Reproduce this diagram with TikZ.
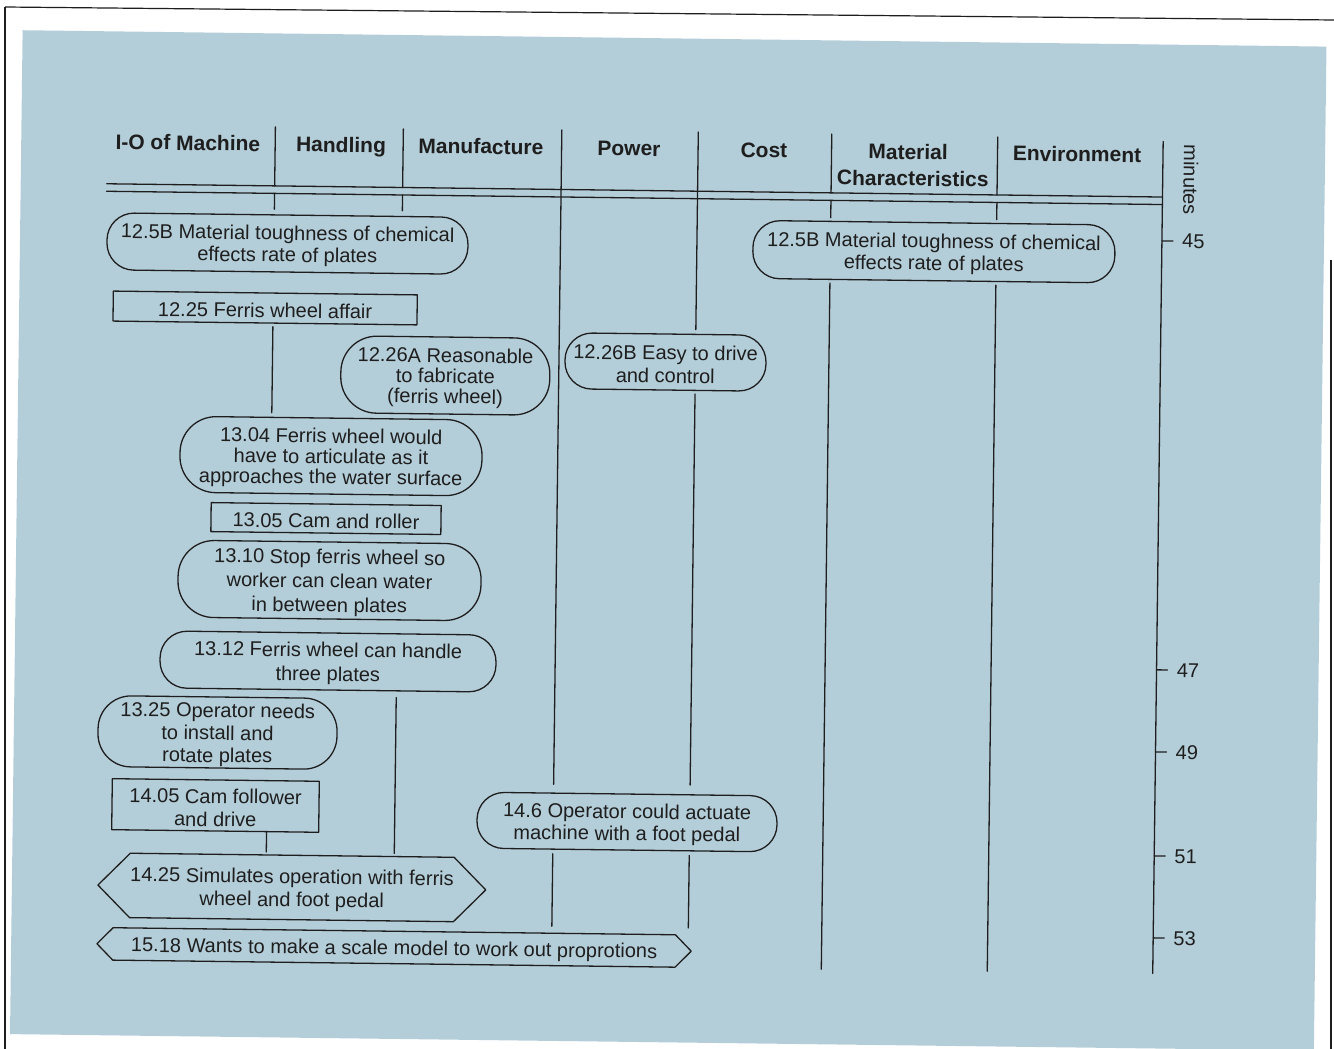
\documentclass[tikz,border=0pt]{standalone}
\usepackage{fontspec}
\setmainfont{Liberation Sans}
\usetikzlibrary{calc}
\definecolor{panel}{RGB}{180,206,217}
\definecolor{ink}{RGB}{30,30,30}
% taller first line, so the lettering sits a little lower in its outline
\newcommand{\boxlift}{\rule{0pt}{19pt}}
\tikzset{
  ln/.style={draw=ink, line width=1.3pt, line cap=round, line join=round},
  txt/.style={font=\fontsize{20}{#1}\selectfont, align=center, inner sep=0pt, text=ink},
  txt/.default=22,
  pill/.style={ln, txt=#1},
  pill/.default=22,
  card/.style={ln, txt=#1},
  card/.default=22,
  hd/.style={font=\fontsize{21}{25}\selectfont\bfseries, anchor=base, inner sep=0pt, text=ink},
  tickl/.style={font=\fontsize{20}{24}\selectfont, anchor=west, inner sep=0pt, text=ink},
  frame/.style={draw=ink, line width=1.2pt},
}
\begin{document}
\begin{tikzpicture}[x=1pt,y=-1pt]
\useasboundingbox (0,0) rectangle (1334,1049);
\fill[white] (0,0) rectangle (1334,1049);

% page edges
\draw[frame] (5,7) -- (1334,20);
\draw[frame] (5,7) -- (5,1049);
\draw[frame] (1331,260) -- (1331,1049);

\begin{scope}[rotate around={-0.72:(640,560)}, transform shape]
% tinted panel
\fill[panel] (16,38) rectangle (1320,1042);

% column headings
\node[hd] (hIO)   at (182.7,156) {I-O of Machine};
\node[hd] (hHand) at (335.8,156) {Handling};
\node[hd] (hMan)  at (475.8,156) {Manufacture};
\node[hd] (hPow)  at (623.8,156) {Power};
\node[hd] (hCost) at (758.8,156) {Cost};
\node[hd] (hMat)  at (903,156) {Material};
\node[hd] (hChar) at (908,182.5) {Characteristics};
\node[hd] (hEnv)  at (1071.9,156) {Environment};
\node[font=\fontsize{20}{24}\selectfont, rotate=-90, inner sep=0pt, text=ink] (mins) at (1186,173) {minutes};

% column and axis reference points
\coordinate (c1t) at (270,131.5);   \coordinate (c1b) at (270,967);
\coordinate (c2t) at (398,132);     \coordinate (c2b) at (398,967);
\coordinate (c3t) at (556.5,131);   \coordinate (c3b) at (556.5,967);
\coordinate (c4t) at (693,131.3);   \coordinate (c4b) at (693,967);
\coordinate (c5t) at (826.5,131.6); \coordinate (c5b) at (826.5,967);
\coordinate (c6t) at (992.5,132.5); \coordinate (c6b) at (992.5,967);
\coordinate (axt) at (1158,135);    \coordinate (axb) at (1158,967);
\coordinate (dl1w) at (102,190.5);  \coordinate (dl1e) at (1158,190.5);
\coordinate (dl2w) at (102,198);    \coordinate (dl2e) at (1158,198);

% events
\node[pill, rounded corners=27pt, minimum width=361pt, minimum height=57pt] (n125L) at (283.5,248)
  {\boxlift 12.5B Material toughness of chemical\\effects rate of plates};
\node[pill, rounded corners=27pt, minimum width=362pt, minimum height=58pt] (n125R) at (930,248)
  {\boxlift 12.5B Material toughness of chemical\\effects rate of plates};
\node[card, minimum width=304pt, minimum height=30pt] (n1225) at (262,312.7)
  {\boxlift 12.25 Ferris wheel affair};
\node[pill=20.5, rounded corners=36pt, minimum width=209pt, minimum height=77pt] (n1226A) at (443,378)
  {\boxlift 12.26A Reasonable\\to fabricate\\(ferris wheel)};
\node[pill=23, rounded corners=27pt, minimum width=201pt, minimum height=56pt] (n1226B) at (663,361.7)
  {\boxlift 12.26B Easy to drive\\and control};
\node[pill=20.5, rounded corners=36pt, minimum width=302pt, minimum height=76pt] (n1304) at (329.7,460)
  {\boxlift 13.04 Ferris wheel would\\have to articulate as it\\approaches the water surface};
\node[card, minimum width=230pt, minimum height=29pt] (n1305) at (325.5,522.5)
  {\boxlift 13.05 Cam and roller};
\node[pill=24, rounded corners=36pt, minimum width=303pt, minimum height=77pt] (n1310) at (329.8,584.4)
  {\boxlift 13.10 Stop ferris wheel so\\worker can clean water\\in between plates};
\node[pill=24, rounded corners=27pt, minimum width=336pt, minimum height=57pt] (n1312) at (329.3,665.4)
  {\boxlift 13.12 Ferris wheel can handle\\three plates};
\node[pill=22.5, rounded corners=33pt, minimum width=239pt, minimum height=71pt] (n1325) at (219.7,737.8)
  {\boxlift 13.25 Operator needs\\to install and\\rotate plates};
\node[card=23, minimum width=207pt, minimum height=51pt] (n1405) at (218.6,810.8)
  {\boxlift 14.05 Cam follower\\and drive};
\node[pill=22, rounded corners=27pt, minimum width=300pt, minimum height=56pt] (n146) at (630.3,822.2)
  {\boxlift 14.6 Operator could actuate\\machine with a foot pedal};
\node[txt=23, minimum width=320pt, minimum height=64pt] (n1425) at (296,891.9)
  {\boxlift 14.25 Simulates operation with ferris\\wheel and foot pedal};
\draw[ln] (n1425.north west) -- (n1425.north east) -- ([xshift=32pt]n1425.east)
  -- (n1425.south east) -- (n1425.south west) -- ([xshift=-32pt]n1425.west) -- cycle;
\node[txt, minimum width=562pt, minimum height=32pt] (n1518) at (399,950.6)
  {\boxlift 15.18 Wants to make a scale model to work out proprotions};
\draw[ln] (n1518.north west) -- (n1518.north east) -- ([xshift=16pt]n1518.east)
  -- (n1518.south east) -- (n1518.south west) -- ([xshift=-16pt]n1518.west) -- cycle;

% heading rules
\draw[ln] (dl1w) -- (dl1e);
\draw[ln] (dl2w) -- (dl2e);
\draw[ln] (axt) -- (axb);

% I-O of Machine | Handling
\draw[ln] (c1t) -- ($(c1t)!(dl1w)!(c1b)$);
\draw[ln, shorten >=5pt] ($(c1t)!(dl2w)!(c1b)$) -- ($(c1t)!(n125L.north)!(c1b)$);
\draw[ln, shorten <=3pt, shorten >=4pt] ($(c1t)!(n1225.south)!(c1b)$) -- ($(c1t)!(n1304.north)!(c1b)$);
\draw[ln, shorten >=3pt] ($(c1t)!(n1405.south)!(c1b)$) -- ($(c1t)!(n1425.north)!(c1b)$);
% Handling | Manufacture
\draw[ln] (c2t) -- ($(c2t)!(dl1w)!(c2b)$);
\draw[ln, shorten >=5pt] ($(c2t)!(dl2w)!(c2b)$) -- ($(c2t)!(n125L.north)!(c2b)$);
\draw[ln, shorten <=6pt, shorten >=3pt] ($(c2t)!(n1312.south)!(c2b)$) -- ($(c2t)!(n1425.north)!(c2b)$);
% Manufacture | Power
\draw[ln, shorten >=8pt] (c3t) -- ($(c3t)!(n146.north)!(c3b)$);
\draw[ln, shorten <=4pt, shorten >=7pt] ($(c3t)!(n146.south)!(c3b)$) -- ($(c3t)!(n1518.north)!(c3b)$);
% Power | Cost
\draw[ln, shorten >=4pt] (c4t) -- ($(c4t)!(n1226B.north)!(c4b)$);
\draw[ln, shorten <=3pt, shorten >=9pt] ($(c4t)!(n1226B.south)!(c4b)$) -- ($(c4t)!(n146.north)!(c4b)$);
\draw[ln, shorten <=4pt, shorten >=7pt] ($(c4t)!(n146.south)!(c4b)$) -- ($(c4t)!(n1518.north)!(c4b)$);
% Cost | Material Characteristics
\draw[ln] (c5t) -- ($(c5t)!(dl1w)!(c5b)$);
\draw[ln, shorten >=3pt] ($(c5t)!(dl2w)!(c5b)$) -- ($(c5t)!(n125R.north)!(c5b)$);
\draw[ln, shorten <=3pt] ($(c5t)!(n125R.south)!(c5b)$) -- (c5b);
% Material Characteristics | Environment
\draw[ln] (c6t) -- ($(c6t)!(dl1w)!(c6b)$);
\draw[ln, shorten >=3pt] ($(c6t)!(dl2w)!(c6b)$) -- ($(c6t)!(n125R.north)!(c6b)$);
\draw[ln, shorten <=3pt] ($(c6t)!(n125R.south)!(c6b)$) -- (c6b);

% time axis
\node[tickl] (l45) at (1178,234.4) {45};
\node[tickl] (l47) at (1178,663.4) {47};
\node[tickl] (l49) at (1178,745.5) {49};
\node[tickl] (l51) at (1178,849.5) {51};
\node[tickl] (l53) at (1178,931.5) {53};
\foreach \t in {l45,l47,l49,l51,l53}
  \draw[ln] ($(axt)!(\t.west)!(axb)$) -- ++(11,0);
\end{scope}
\end{tikzpicture}
\end{document}
